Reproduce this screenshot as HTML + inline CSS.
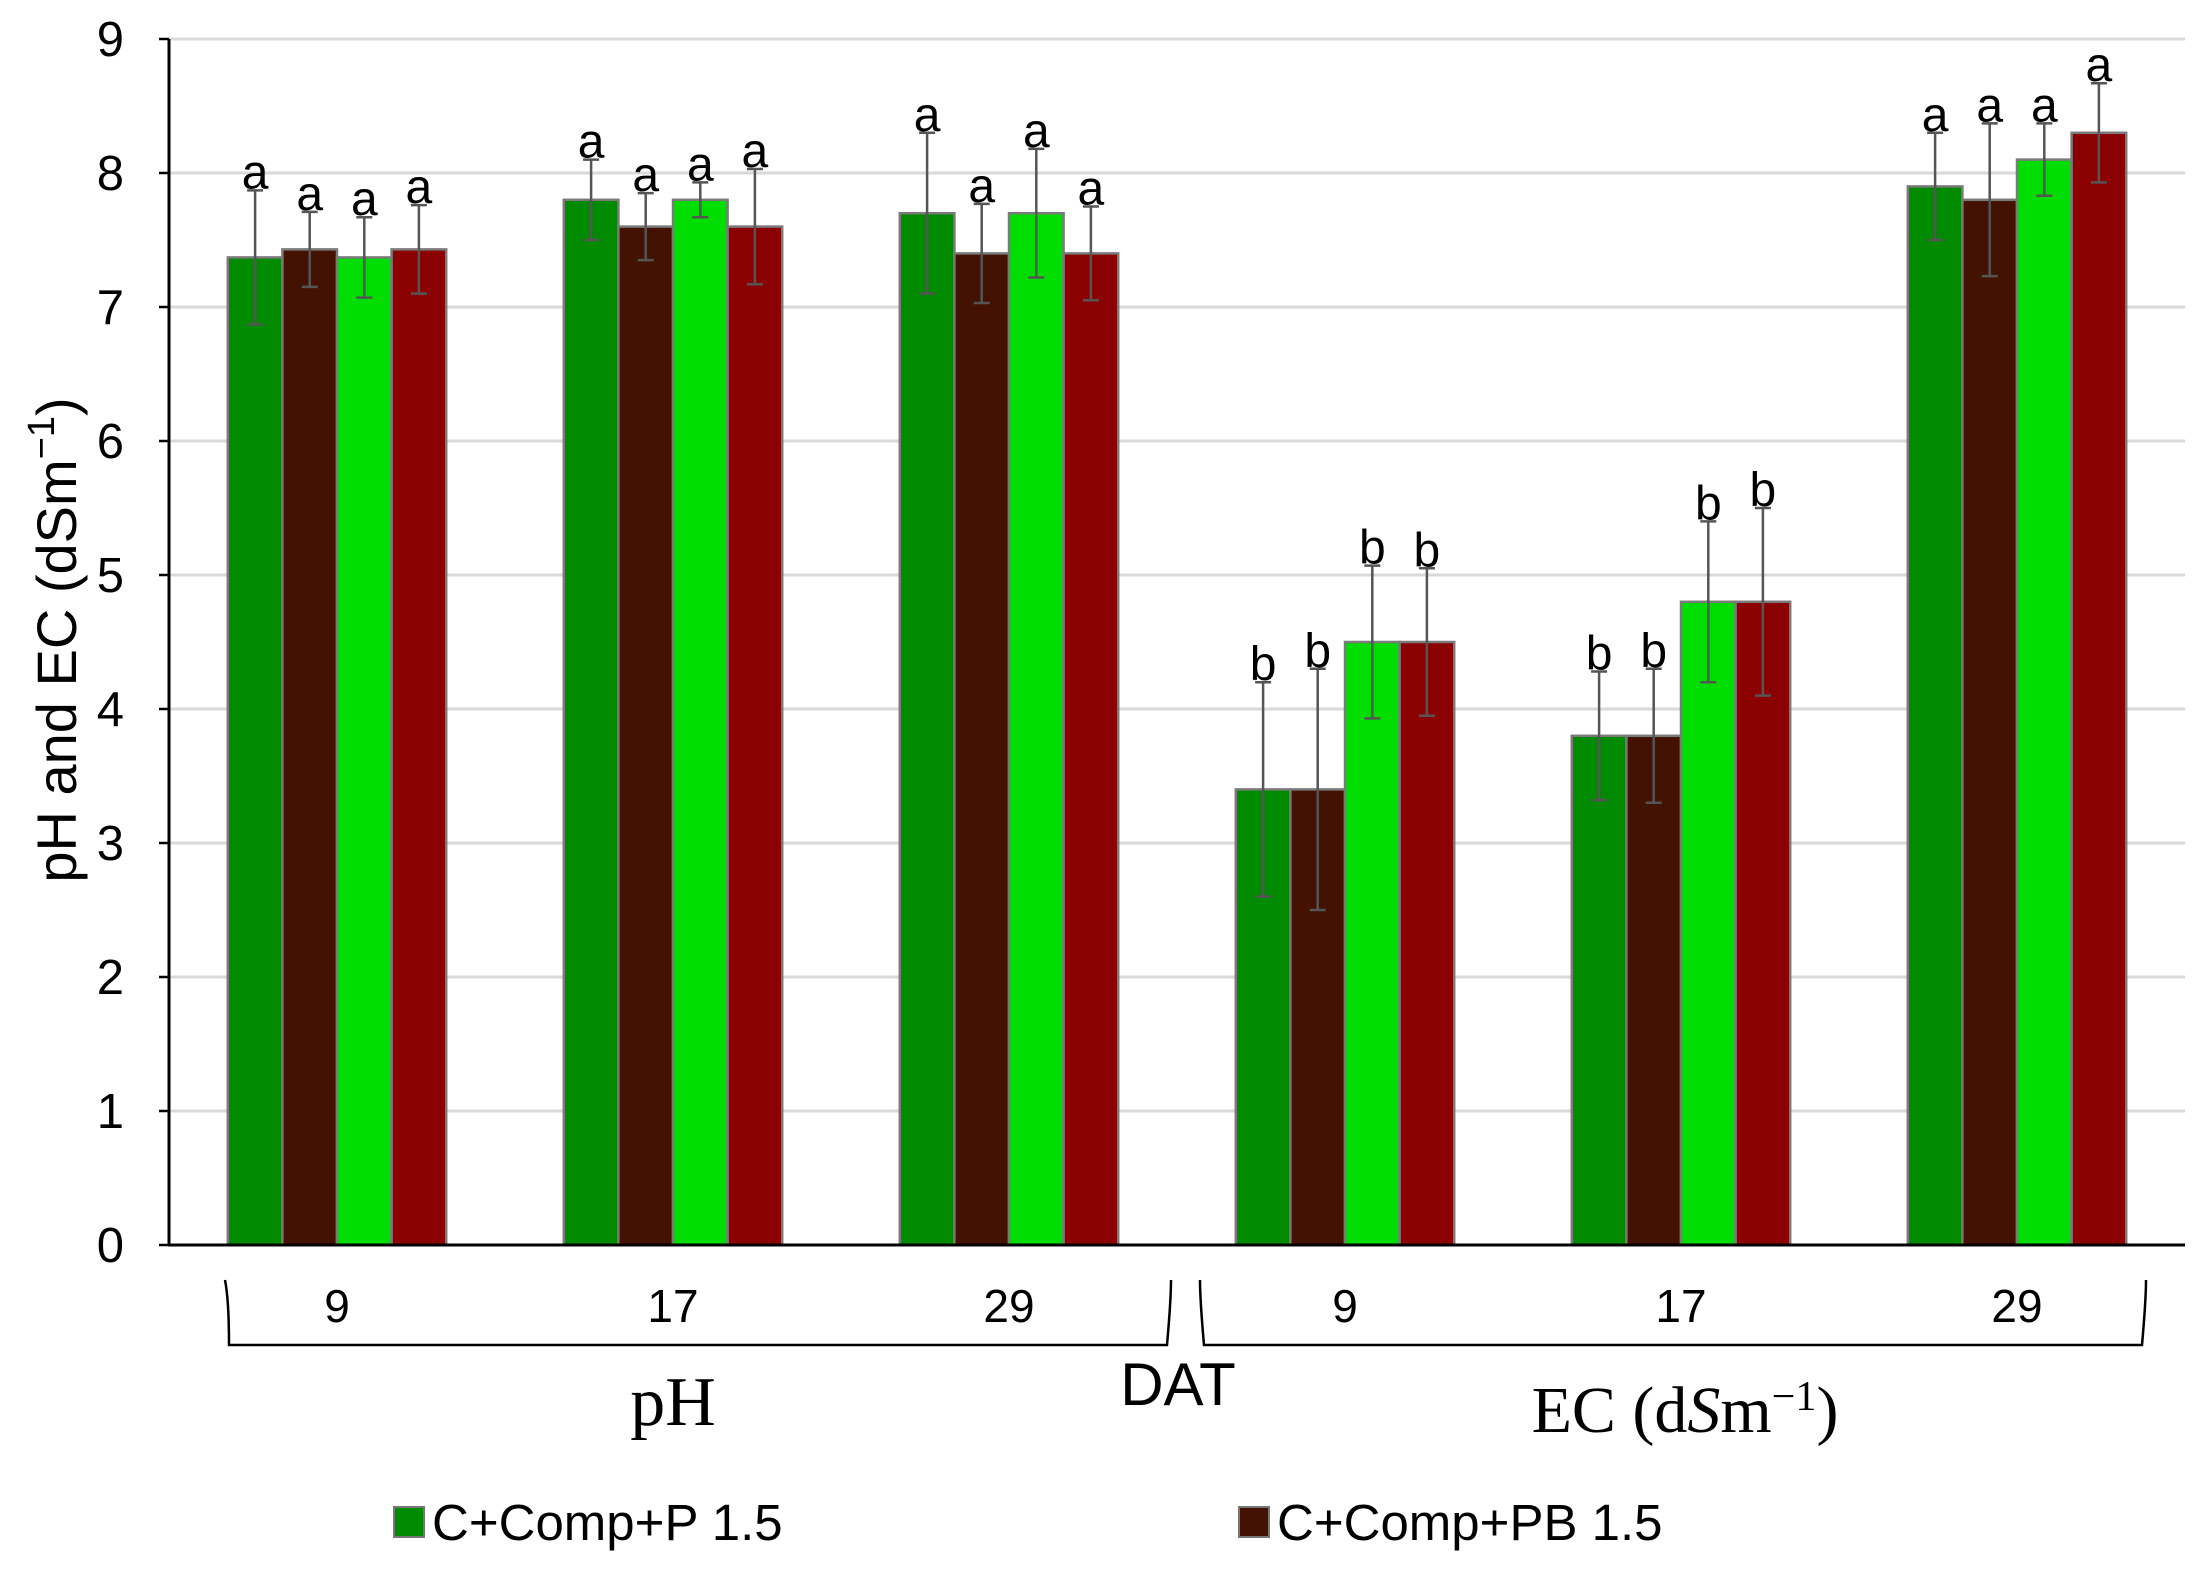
<!DOCTYPE html>
<html><head><meta charset="utf-8"><style>body{margin:0;background:#fff}svg{display:block}</style></head>
<body>
<svg id="c" width="2208" height="1570" xmlns="http://www.w3.org/2000/svg" font-family="Liberation Sans, sans-serif"></svg>
<script>
const categories=["9","17","29","9","17","29"];
const seriesNames=["C+Comp+P 1.5","C+Comp+PB 1.5","s3","s4"];
const s1=[7.37,7.8,7.7,3.4,3.8,7.9];
const s2=[7.43,7.6,7.4,3.4,3.8,7.8];
const s3=[7.37,7.8,7.7,4.5,4.8,8.1];
const s4=[7.43,7.6,7.4,4.5,4.8,8.3];
const e1=[0.5,0.3,0.6,0.8,0.48,0.4];
const e2=[0.28,0.25,0.37,0.9,0.5,0.57];
const e3=[0.3,0.13,0.48,0.57,0.6,0.27];
const e4=[0.33,0.43,0.35,0.55,0.7,0.37];
const letters=[["a","a","a","a"],["a","a","a","a"],["a","a","a","a"],["b","b","b","b"],["b","b","b","b"],["a","a","a","a"]];
const yTicks=[0,1,2,3,4,5,6,7,8,9];
const colors=["#008a00","#431200","#00dd00","#8b0000"];
const svg=document.getElementById('c');
const NS="http://www.w3.org/2000/svg";
const X0=169,X1=2185,Y0=1245,Y9=39;
const y=v=>Y0-(Y0-Y9)*v/9;
const cw=(X1-X0)/categories.length, bw=cw*0.65/4;
const x=(i,s)=>X0+cw*(i+0.5)-cw*0.325+bw*s;
function mk(t,a,txt){const e=document.createElementNS(NS,t);for(const k in a)e.setAttribute(k,a[k]);if(txt!=null)e.textContent=txt;svg.appendChild(e);return e;}
yTicks.forEach(t=>{
 if(t>0){const g=mk('line',{x1:X0,x2:X1,y1:y(t),y2:y(t),stroke:'#d9d9d9','stroke-width':3});
 
 }
 const tk=mk('line',{x1:X0-10,x2:X0,y1:y(t),y2:y(t),stroke:'#000','stroke-width':2.5});
 
 
 const l=mk('text',{x:124,y:y(t)+17,'text-anchor':'end','font-size':49},String(t));
 
 
});
const vals=[s1,s2,s3,s4],errs=[e1,e2,e3,e4];
categories.forEach((c,i)=>{
 for(let s=0;s<4;s++){
  const v=vals[s][i],er=errs[s][i],bx=x(i,s);
  const r=mk('rect',{x:bx,y:y(v),width:bw,height:Y0-y(v),fill:colors[s],stroke:'#7a7a7a','stroke-width':2.5});
  
  
  const cx=bx+bw/2;
  const el=mk('path',{d:`M${cx},${y(v+er)}V${y(v-er)}M${cx-8},${y(v+er)}H${cx+8}M${cx-8},${y(v-er)}H${cx+8}`,stroke:'#555','stroke-width':2.5,fill:'none'});
  
  
  const lt=mk('text',{x:cx,y:y(v+er)-2,'text-anchor':'middle','font-size':48},letters[i][s]);
  
  
 }
 const cl=mk('text',{x:X0+cw*(i+0.5),y:1322,'text-anchor':'middle','font-size':46},c);
 
 
});
</script>
<script>
(function(){
const svg=document.getElementById('c');const NS="http://www.w3.org/2000/svg";
function mk(t,a,txt){const e=document.createElementNS(NS,t);for(const k in a)e.setAttribute(k,a[k]);if(txt!=null)e.textContent=txt;svg.appendChild(e);return e;}
let e;
e=mk('line',{x1:169,x2:169,y1:39,y2:1246,stroke:'#000','stroke-width':3});
e=mk('line',{x1:168,x2:2185,y1:1245,y2:1245,stroke:'#000','stroke-width':3});
e=mk('path',{d:'M225,1280Q229,1300 229,1345H1167Q1171,1300 1171,1280',fill:'none',stroke:'#000','stroke-width':2.5});
e=mk('path',{d:'M1200,1280Q1200,1300 1204,1345H2142Q2146,1300 2146,1280',fill:'none',stroke:'#000','stroke-width':2.5});
e=mk('text',{x:673,y:1425,'text-anchor':'middle','font-size':70,'font-family':'Liberation Serif, serif'},'pH');
e=mk('text',{x:1178,y:1405,'text-anchor':'middle','font-size':60},'DAT');
e=mk('text',{x:1685,y:1432,'text-anchor':'middle','font-size':66,'font-family':'Liberation Serif, serif'});e.innerHTML='EC (d<tspan font-style="italic">S</tspan>m<tspan dy="-22" font-size="42">−1</tspan><tspan dy="22">)</tspan>';
e=mk('text',{x:0,y:0,'text-anchor':'middle','font-size':56,transform:'translate(76,640) rotate(-90)'});e.innerHTML='pH and EC (dSm<tspan dy="-22" font-size="38">−1</tspan><tspan dy="22">)</tspan>';
e=mk('rect',{x:394,y:1507,width:30,height:30,fill:'#008a00',stroke:'#777','stroke-width':2});
e=mk('text',{x:432,y:1540,'font-size':51},'C+Comp+P 1.5');
e=mk('rect',{x:1239,y:1507,width:30,height:30,fill:'#431200',stroke:'#777','stroke-width':2});
e=mk('text',{x:1277,y:1540,'font-size':51},'C+Comp+PB 1.5');
})();
</script>
</body></html>
